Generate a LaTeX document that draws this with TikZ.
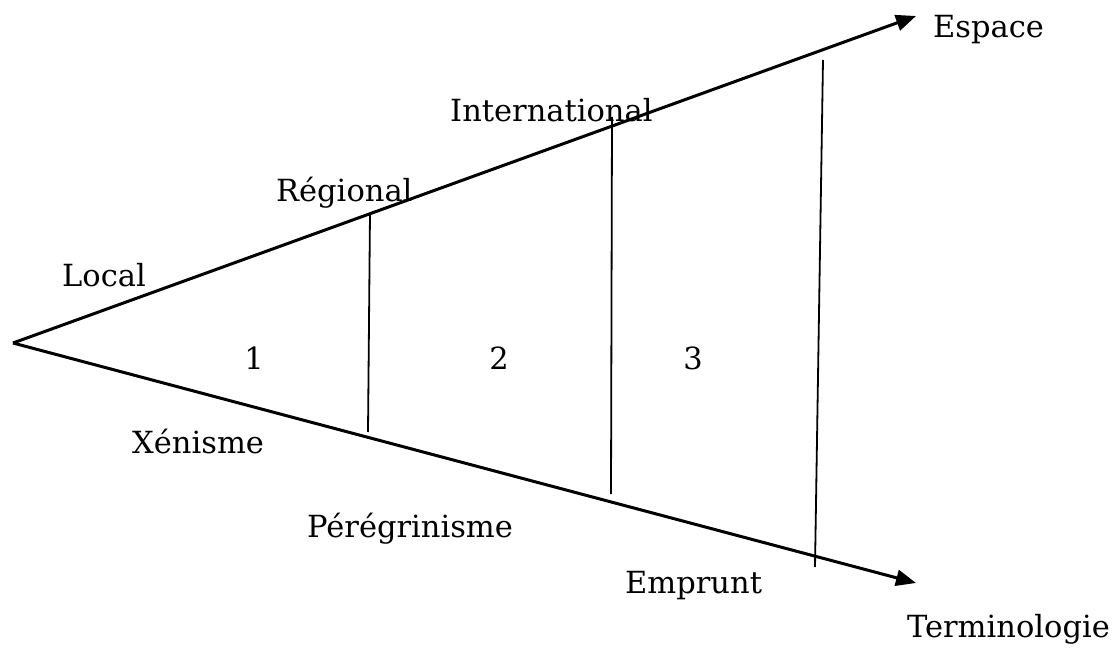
\documentclass[tikz,border=0pt]{standalone}
\usepackage{fontspec}
\setmainfont{DejaVu Serif}
\usetikzlibrary{arrows.meta}
\begin{document}
\begin{tikzpicture}[x=1pt,y=-1pt,
  axis/.style={line width=3pt,-{Triangle[length=20pt,width=16pt]}},
  sep/.style={line width=1.8pt},
  lbl/.style={anchor=base west,inner sep=0pt,font=\fontsize{30.5}{34}\selectfont},
  num/.style={anchor=base,inner sep=0pt,font=\fontsize{30.5}{34}\selectfont}]
\useasboundingbox (0,0) rectangle (1120,655);
\coordinate (O) at (13,343);
\coordinate (E) at (916,16);
\coordinate (T) at (916,583);
\draw[axis] (O) -- (E);
\draw[axis] (O) -- (T);
\coordinate (a1) at (370,213);
\coordinate (b1) at (368,432);
\coordinate (a2) at (612,117);
\coordinate (b2) at (611,494);
\coordinate (a3) at (823,60);
\coordinate (b3) at (815,567);
\draw[sep] (a1) -- (b1);
\draw[sep] (a2) -- (b2);
\draw[sep] (a3) -- (b3);
\node[lbl] (espace) at (933,38) {Espace};
\node[lbl] (inter) at (450,122) {International};
\node[lbl] (reg) at (276,202) {Régional};
\node[lbl] (local) at (62,287) {Local};
\node[lbl] (xen) at (132,453) {Xénisme};
\node[lbl] (per) at (307,537) {Pérégrinisme};
\node[lbl] (emp) at (625,593) {Emprunt};
\node[lbl,anchor=base east] (term) at (1110,637) {Terminologie};
\node[num] (n1) at (254,369) {1};
\node[num] (n2) at (499,369) {2};
\node[num] (n3) at (693,369) {3};
\end{tikzpicture}
\end{document}
